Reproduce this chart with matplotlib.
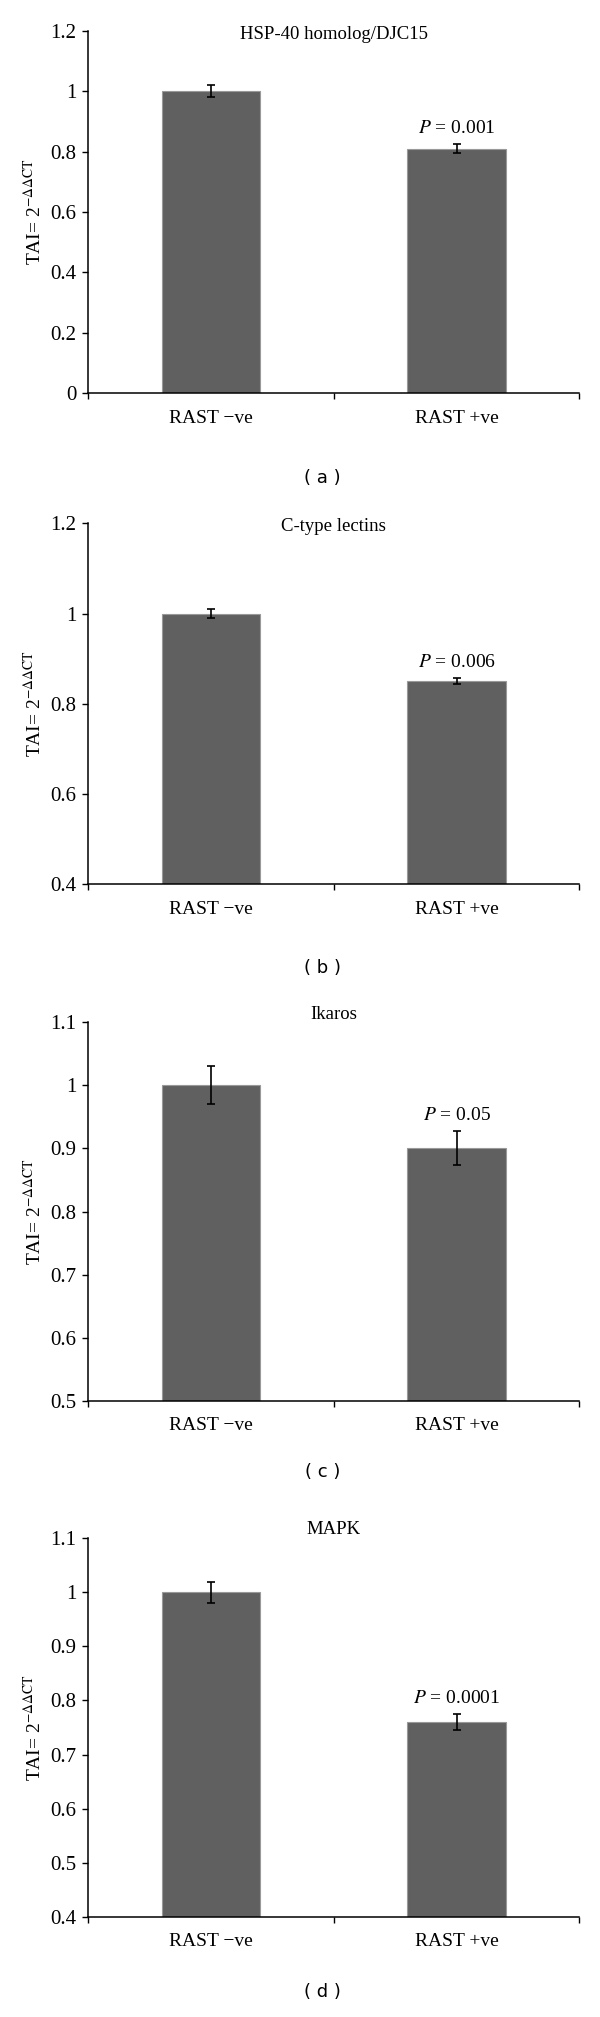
import matplotlib
matplotlib.use("Agg")
import matplotlib.pyplot as plt
import numpy as np
from matplotlib.ticker import MultipleLocator, FormatStrFormatter, FixedLocator

plt.rcParams['font.family'] = 'Liberation Serif'
plt.rcParams['mathtext.fontset'] = 'stix'

categories = ["RAST \u2212ve", "RAST +ve"]
titles = ["HSP-40 homolog/DJC15", "C-type lectins", "Ikaros", "MAPK"]
panel_tags = ["( a )", "( b )", "( c )", "( d )"]

hsp40_vals = [1.0, 0.81]
hsp40_err = [0.02, 0.015]
lectin_vals = [1.0, 0.85]
lectin_err = [0.01, 0.007]
ikaros_vals = [1.0, 0.90]
ikaros_err = [0.03, 0.027]
mapk_vals = [1.0, 0.76]
mapk_err = [0.02, 0.015]
p_labels = ["0.001", "0.006", "0.05", "0.0001"]

y_ranges = [(0, 1.2, 0.2), (0.4, 1.2, 0.2), (0.5, 1.1, 0.1), (0.4, 1.1, 0.1)]

W, H = 600, 2017
fig = plt.figure(figsize=(W / 100, H / 100), dpi=100)

# axes boxes in pixels: (top, bottom)
boxes = [(30.7, 393.3), (523.3, 884.3), (1022.3, 1400.7), (1538.3, 1916.7)]
title_off = [-4, -3.4, 8.3, 9.3]
tag_y = [478, 968, 1471.7, 1991.7]
left_px, width_px = 88.3, 491

values = [hsp40_vals, lectin_vals, ikaros_vals, mapk_vals]
errors = [hsp40_err, lectin_err, ikaros_err, mapk_err]

for i in range(4):
    top, bot = boxes[i]
    ax = fig.add_axes([left_px / W, 1 - bot / H, width_px / W, (bot - top) / H])
    x = np.arange(len(categories))
    ax.bar(x, values[i], width=0.4, color="#606060", edgecolor="#999999", linewidth=0.8, zorder=2)
    ax.errorbar(x, values[i], yerr=errors[i], fmt="none", ecolor="black",
                elinewidth=1.2, capsize=2.6, capthick=1.2, zorder=3)
    lo, hi, step = y_ranges[i]
    ax.set_ylim(lo, hi)
    ax.set_xlim(-0.5, 1.5)
    ax.yaxis.set_major_locator(MultipleLocator(step))
    ax.yaxis.set_major_formatter(FormatStrFormatter('%g'))
    ax.set_xticks(x)
    ax.set_xticklabels(categories)
    ax.xaxis.set_minor_locator(FixedLocator([-0.5, 0.5, 1.5]))
    ax.tick_params(axis='x', which='major', length=0, pad=12, labelsize=14)
    ax.tick_params(axis='x', which='minor', length=4.5, width=1, direction='out')
    ax.tick_params(axis='y', length=4.5, width=1, direction='out', pad=4, labelsize=15)
    for s in ['top', 'right']:
        ax.spines[s].set_visible(False)
    for s in ['left', 'bottom']:
        ax.spines[s].set_linewidth(1.1)
    ax.set_ylabel(r'TAI= 2$^{\mathrm{-\Delta\Delta CT}}$', fontsize=14)
    ax.yaxis.set_label_coords(-0.088, 0.5)
    ax.annotate(titles[i], xy=(0.5, 1), xycoords='axes fraction',
                xytext=(0, title_off[i] * 0.72), textcoords='offset points',
                ha='center', va='center', fontsize=13.5)
    ax.annotate(r'$P$ = ' + p_labels[i], xy=(1, values[i][1] + errors[i][1]),
                xytext=(0, 11.5), textcoords='offset points',
                ha='center', va='center', fontsize=14)
    fig.text(322.7 / W, 1 - tag_y[i] / H, panel_tags[i], ha='center', va='center',
             fontsize=13, family='DejaVu Sans')

fig.savefig("out.png", dpi=100)
